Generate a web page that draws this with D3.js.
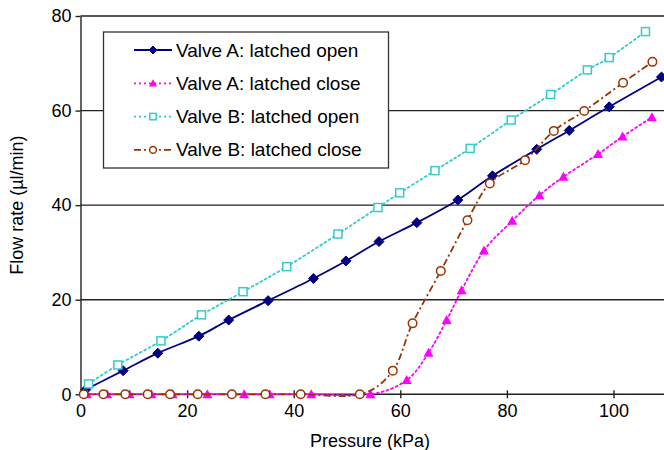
<!DOCTYPE html>
<meta charset="utf-8">
<title>Flow rate vs pressure</title>
<style>
    body { margin: 0; background: #fff; }
    text { font-family: Arial, "Liberation Sans", sans-serif; fill: #000; }
    .grid line { stroke: #222; stroke-width: 1.4; }
    .axis path, .axis line { stroke: #222; stroke-width: 1.4; }
    .series path.line { fill: none; stroke-width: 1.8; }
</style>
<body>
<svg width="664" height="450"></svg>
<script src="https://cdn.jsdelivr.net/npm/d3@7"></script>
<script>
    // values
    var aOpenX  = [1, 8, 14.5, 22.2, 27.8, 35.2, 43.7, 49.8, 56, 63.1, 70.8, 77.3, 85.6, 91.7, 99.2, 109];
    var aOpenY  = [1, 5, 8.7, 12.3, 15.7, 19.8, 24.5, 28.2, 32.3, 36.3, 41.1, 46.2, 51.8, 55.8, 60.8, 67.1];
    var aCloseX = [1.2, 5, 9.2, 13.3, 17.3, 23.8, 30.7, 35.5, 43.3, 54.4, 61.2, 65.3, 68.7, 71.5, 75.7, 81, 86.1, 90.6, 97.1, 101.7, 107.2];
    var aCloseY = [0, 0, 0, 0, 0, 0, 0, 0, 0, 0, 3, 8.8, 15.7, 22, 30.4, 36.7, 42.1, 46, 50.8, 54.5, 58.6];
    var bOpenX  = [1.5, 7, 15.1, 22.7, 30.5, 38.7, 48.3, 55.8, 59.9, 66.5, 73.1, 80.8, 88.2, 95.1, 99.2, 106];
    var bOpenY  = [2.2, 6.2, 11.3, 16.8, 21.7, 27, 33.9, 39.5, 42.6, 47.3, 52, 58, 63.4, 68.6, 71.2, 76.7];
    var bCloseX = [0.6, 4.3, 8.4, 12.6, 16.8, 22, 28.4, 34.7, 41.3, 52.4, 58.6, 62.3, 67.6, 72.6, 76.8, 83.4, 88.8, 94.5, 101.8, 107.3];
    var bCloseY = [0, 0, 0, 0, 0, 0, 0, 0, 0, 0, 5, 15, 26.1, 36.8, 44.6, 49.5, 55.7, 59.9, 65.9, 70.3];

    var xTicks = [0, 20, 40, 60, 80, 100];
    var yTicks = [0, 20, 40, 60, 80];

    var series = [
        { name: "Valve A: latched open",  xs: aOpenX,  ys: aOpenY,  color: "#000080", dash: null,        mark: "diamond" },
        { name: "Valve A: latched close", xs: aCloseX, ys: aCloseY, color: "#ff00ff", dash: "2,3",       mark: "triangle" },
        { name: "Valve B: latched open",  xs: bOpenX,  ys: bOpenY,  color: "#33cccc", dash: "2,3",       mark: "square" },
        { name: "Valve B: latched close", xs: bCloseX, ys: bCloseY, color: "#993300", dash: "7,3,2,3",   mark: "circle" }
    ];

    var svg = d3.select("svg");
    var x = d3.scaleLinear().domain([0, 110]).range([80.5, 666.8]);
    var y = d3.scaleLinear().domain([0, 80]).range([394.3, 16]);

    // horizontal grid
    svg.append("g").attr("class", "grid")
        .selectAll("line").data(yTicks.filter(function(d) { return d > 0; }))
        .enter().append("line")
        .attr("x1", x(0)).attr("x2", 664)
        .attr("y1", function(d) { return y(d); })
        .attr("y2", function(d) { return y(d); });

    // y axis
    var gy = svg.append("g").attr("class", "axis")
        .attr("transform", "translate(" + x(0) + ",0)")
        .call(d3.axisLeft(y).tickValues(yTicks).tickSize(5).tickPadding(4).tickSizeOuter(0));
    gy.selectAll("text").style("font-size", "18px");

    // x axis, ticks crossing the line
    var gx = svg.append("g").attr("class", "axis")
        .attr("transform", "translate(0," + y(0) + ")")
        .call(d3.axisBottom(x).tickValues(xTicks).tickSize(4).tickPadding(6).tickSizeOuter(0));
    gx.selectAll(".tick line").attr("y1", -4);
    gx.selectAll(".tick").filter(function(d) { return d === 0; }).select("line").remove();
    gx.selectAll("text").style("font-size", "18px");
    gx.select(".domain").attr("d", "M" + x(0) + ",0H664");

    svg.append("text")
        .attr("x", 370).attr("y", 447)
        .attr("text-anchor", "middle")
        .style("font-size", "18px")
        .text("Pressure (kPa)");

    svg.append("text")
        .attr("transform", "translate(23," + y(40) + ") rotate(-90)")
        .attr("text-anchor", "middle")
        .style("font-size", "18px")
        .text("Flow rate (\u00b5l/min)");

    function marker(sel, kind, color, s) {
        if (kind === "diamond") {
            sel.append("path").attr("d", "M0," + (-s) + "L" + s + ",0L0," + s + "L" + (-s) + ",0Z")
                .attr("fill", color).attr("stroke", color).attr("stroke-width", 1);
        } else if (kind === "triangle") {
            sel.append("path").attr("d", "M0," + (-s) + "L" + s + "," + (s * 0.8) + "L" + (-s) + "," + (s * 0.8) + "Z")
                .attr("fill", color);
        } else if (kind === "square") {
            var h = s * 0.8;
            sel.append("rect").attr("x", -h).attr("y", -h).attr("width", 2 * h).attr("height", 2 * h)
                .attr("fill", "#fff").attr("stroke", color).attr("stroke-width", 1.5);
        } else {
            sel.append("circle").attr("r", s * 0.85)
                .attr("fill", "#fff").attr("stroke", color).attr("stroke-width", 1.5);
        }
    }

    var line = d3.line()
        .x(function(d) { return x(d[0]); })
        .y(function(d) { return y(d[1]); })
        .curve(d3.curveCatmullRom.alpha(0));

    series.forEach(function(s) {
        var pts = s.xs.map(function(v, i) { return [v, s.ys[i]]; });
        var g = svg.append("g").attr("class", "series");
        g.append("path").attr("class", "line")
            .attr("d", line(pts))
            .attr("stroke", s.color)
            .attr("stroke-dasharray", s.dash)
            .attr("stroke-linecap", s.dash === "2,3" ? "round" : "butt");
        g.selectAll("g.pt").data(pts).enter().append("g")
            .attr("class", "pt")
            .attr("transform", function(d) { return "translate(" + x(d[0]) + "," + y(d[1]) + ")"; })
            .each(function() { marker(d3.select(this), s.mark, s.color, 5); });
    });

    // legend
    var lg = svg.append("g");
    lg.append("rect").attr("x", 103.5).attr("y", 32).attr("width", 285).attr("height", 136)
        .attr("fill", "#fff").attr("stroke", "#333").attr("stroke-width", 1.3);
    series.forEach(function(s, i) {
        var yy = 50 + i * 33.3;
        var row = lg.append("g").attr("transform", "translate(0," + yy + ")");
        row.append("line").attr("x1", 134).attr("x2", 172).attr("y1", 0).attr("y2", 0)
            .attr("stroke", s.color).attr("stroke-width", 1.8)
            .attr("stroke-dasharray", s.dash);
        marker(row.append("g").attr("transform", "translate(153,0)"), s.mark, s.color, 4);
        row.append("text").attr("x", 176).attr("y", 6.5)
            .style("font-size", "19px")
            .text(s.name);
    });
</script>
</body>
